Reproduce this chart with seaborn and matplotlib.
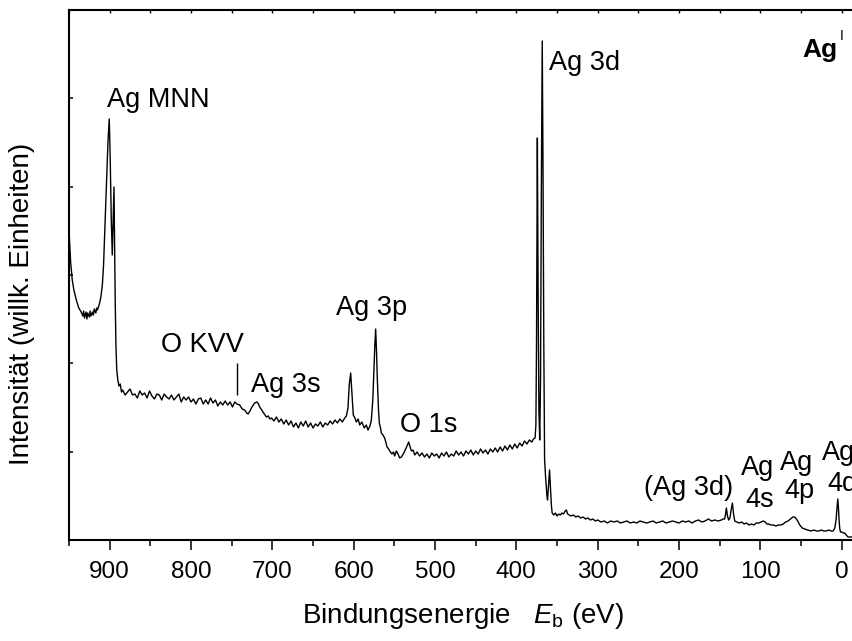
import numpy as np
import pandas as pd
import matplotlib
matplotlib.use("Agg")
import matplotlib.pyplot as plt
import seaborn as sns

# ---------------- data (binding energy in eV, intensity in arbitrary units) ----------------
energy_mnn = [950, 948, 946, 944, 941, 938, 935, 933, 932, 931, 929, 928, 927, 925, 924, 923,
              921, 920, 919, 917, 916, 915, 913, 911, 909, 907.5, 906, 904, 902, 900.5, 899.3,
              898, 896.8, 895.5, 894.7, 894.0, 893.2, 892.3, 891.3, 890, 888.5, 887, 885.5]
inten_mnn = [310, 278, 260, 250, 240, 232, 228, 224, 229, 222, 228, 221, 227, 223, 229, 224,
             228, 225, 231, 227, 232, 230, 235, 242, 255, 275, 310, 355, 400, 421, 380,
             320, 285, 325, 353, 300, 240, 195, 170, 160, 154, 156, 148]

energy_bg1 = [884, 881, 878, 875, 872, 869, 866, 863, 860, 857, 854, 851, 848, 845, 842, 839,
              836, 833, 830, 827, 824, 821, 818, 815, 812, 809, 806, 803, 800, 797, 794, 791,
              788, 785, 782, 779, 776, 773, 770, 767, 764, 761, 758, 755, 752, 749]
inten_bg1 = [150, 145, 148, 151, 145, 146, 142, 149, 145, 147, 142, 149, 144, 141, 146, 145,
             140, 146, 143, 141, 145, 140, 143, 146, 138, 143, 140, 143, 138, 141, 136, 141,
             142, 136, 140, 136, 142, 137, 140, 134, 138, 135, 139, 135, 138, 133]

energy_3s = [746.3, 743.5, 740.2, 737, 734, 731.5, 729.9, 727.5, 725.8, 723.5, 721.7, 718.9,
             717, 715.6, 713, 711.5, 709, 707.3, 705, 703]
inten_3s = [138, 136, 135, 131, 130, 127, 126, 129, 132, 135, 137, 138,
            136, 133, 130, 128, 125, 123, 124, 121]

energy_3p = [701, 698, 695, 692, 689, 686, 683, 680, 677, 674, 671, 668, 665, 662, 659, 656,
             653, 650, 647, 644, 641, 638, 635, 632, 629, 626, 623, 620, 617, 614, 611, 609,
             607, 605.5, 603.7, 602, 600.5, 598.5, 596.7, 594.5, 592.6, 590, 587, 584.5, 582.4,
             580, 578.3, 576.5, 575.4, 574, 573, 572, 570.9, 569.5, 568.5, 567, 566, 564, 562,
             560.5, 559, 557, 555.7, 553, 551, 549.6, 547.5, 545.5, 543.5, 541.4, 539, 537.3,
             535, 533.5, 532.4, 531, 529.1, 527, 525, 522, 519]
inten_3p = [122, 119, 123, 118, 121, 116, 120, 115, 119, 113, 117, 112, 118, 114, 119, 113,
            117, 112, 116, 114, 118, 113, 117, 115, 119, 116, 120, 117, 121, 118, 122, 124,
            132, 155, 167, 145, 125, 122, 118, 121, 115, 118, 112, 115, 110,
            114, 120, 140, 165, 195, 211, 190, 160, 130, 117, 112, 107, 105, 102,
            98, 93, 91, 89, 86, 88, 84, 89, 86, 82, 83, 86, 89,
            93, 96, 98, 94, 89, 90, 85, 88, 84]

energy_bg2 = [516, 513, 510, 507, 504, 501, 498, 495, 492, 489, 486, 483, 480, 477, 474, 471,
              468, 465, 462, 459, 456, 453, 450, 447, 444, 441, 438, 435, 432, 429, 426, 423,
              420, 417, 414, 411, 408, 405, 402, 399, 396, 393, 390, 387, 384, 381, 379]
inten_bg2 = [87, 83, 86, 82, 87, 84, 86, 82, 87, 84, 88, 83, 86, 84, 89, 85,
             88, 84, 89, 86, 90, 85, 89, 86, 91, 87, 90, 86, 91, 88, 92, 88,
             93, 89, 94, 90, 95, 91, 96, 92, 97, 94, 99, 96, 100, 98, 101]

energy_3d = [377, 376, 375.2, 374.2, 373.3, 372.3, 371.3, 370.3, 369.3, 368.2, 367.3, 366.3,
             365.3, 364, 362.5, 361.7, 360.5, 359.2, 358, 357, 356]
inten_3d = [102, 115, 200, 402, 250, 130, 100, 160, 350, 499, 380, 200,
            80, 62, 45, 40, 55, 70, 50, 35, 27]

energy_bg3 = [354, 352, 350, 348, 346, 344, 342, 340, 338.5, 337, 335, 333, 330, 327, 324, 321,
              318, 315, 312, 309, 306, 303, 300, 296, 292, 288, 284, 280, 276, 272, 268, 264,
              260, 256, 252, 248, 244, 240, 236, 232, 228, 224, 220, 216, 212, 208, 204, 200,
              196, 192, 188, 184, 180, 176, 172, 168, 164, 160, 156, 152, 148, 146]
inten_bg3 = [25, 27, 24, 26, 25, 27, 26, 29, 30, 26, 25, 24, 25, 23, 24, 22,
             23, 21, 22, 20, 21, 19, 20, 18, 19, 17, 19, 18, 19, 17, 18, 19,
             17, 18, 17, 19, 18, 17, 18, 19, 17, 18, 19, 17, 18, 19, 18, 17,
             19, 18, 19, 17, 19, 20, 18, 19, 21, 19, 20, 19, 20, 21]

energy_val = [144, 142.8, 141.8, 140.5, 139, 137.5, 136, 134.4, 133, 131.5, 129, 126, 123, 120,
              117, 114, 111, 108, 105, 102, 99, 96.7, 94, 92, 90, 87, 84, 81, 78, 75, 72, 69,
              66, 63, 60, 58, 55.7, 53.5, 51.6, 48.5, 45.5, 42, 38, 34, 31, 28, 25, 22, 19, 16,
              13, 10.7, 8.5, 7, 5.8, 4.9, 4, 3.3, 2.5, 1.6, 0, -2, -3.6, -5.5, -7.7, -10, -14, -20]
inten_val = [21, 26, 32, 24, 20, 22, 30, 37, 26, 19, 18, 17, 18, 16,
             17, 15, 16, 15, 17, 17, 18, 19, 18, 16, 16, 15, 15, 14, 15, 15, 16, 18,
             19, 21, 23, 23, 21, 18, 15, 12, 11, 10, 9, 10, 9, 9, 10, 9, 9, 10,
             9, 9, 12, 20, 32, 41, 32, 20, 12, 8, 8, 7, 7, 5, 3, 3, 3, 2]

energy = energy_mnn + energy_bg1 + energy_3s + energy_3p + energy_bg2 + energy_3d + energy_bg3 + energy_val
intensity = inten_mnn + inten_bg1 + inten_3s + inten_3p + inten_bg2 + inten_3d + inten_bg3 + inten_val

x_ticks = [900, 800, 700, 600, 500, 400, 300, 200, 100, 0]
x_tick_labels = [str(t) for t in x_ticks]
okvv_marker = (743.5, 145, 177)  # energy, lower, upper end of the O KVV marker

# ---------------- style ----------------
sns.set_style("ticks")
plt.rcParams['font.family'] = ['Liberation Sans', 'DejaVu Sans']
plt.rcParams['mathtext.fontset'] = 'custom'
plt.rcParams['mathtext.rm'] = 'Liberation Sans'
plt.rcParams['mathtext.it'] = 'Liberation Sans:italic'
plt.rcParams['mathtext.bf'] = 'Liberation Sans:bold'
plt.rcParams['text.color'] = 'black'
plt.rcParams['axes.labelcolor'] = 'black'
plt.rcParams['xtick.color'] = 'black'
plt.rcParams['ytick.color'] = 'black'
plt.rcParams['xtick.labelcolor'] = 'black'
plt.rcParams['axes.edgecolor'] = 'black'

W, H = 853, 641
fig = plt.figure(figsize=(W / 100, H / 100), dpi=100)
ax = fig.add_axes([69 / W, (H - 540) / H, 789 / W, 530 / H])

df = pd.DataFrame({"E": energy, "I": intensity})
sns.lineplot(data=df, x="E", y="I", ax=ax, color="black", linewidth=1.0,
             sort=False, estimator=None)

ax.set_xlim(950, -20)
ax.set_ylim(0, 530)
ax.set_xlabel("")
ax.set_ylabel("")

for s in ax.spines.values():
    s.set_linewidth(1.5)
    s.set_color("black")

ax.set_xticks(x_ticks)
ax.set_xticklabels(x_tick_labels, fontsize=17.5, color='black')
ax.set_xticks(np.arange(-0, 951, 50), minor=True)
ax.tick_params(axis='x', which='major', direction='out', length=7, width=1.1, pad=8, color='black')
ax.tick_params(axis='x', which='minor', direction='out', length=4, width=1.1, color='black')
ax.set_yticks(np.arange(1, 6) * 530 / 6)
ax.set_yticklabels([])
ax.tick_params(axis='y', which='major', direction='in', length=3, width=1.1, color='black')

top = ax.twiny()
top.set_xlim(ax.get_xlim())
top.set_xticks(np.arange(0, 951, 50))
top.set_xticklabels([])
top.tick_params(axis='x', direction='in', length=2.5, width=1.0, color='black')
for s in top.spines.values():
    s.set_visible(False)

ax.vlines(okvv_marker[0], okvv_marker[1], okvv_marker[2], color='black', linewidth=1.0)

def ftext(px, py, s, **kw):
    fig.text(px / W, 1 - py / H, s, **kw)

ann = dict(fontsize=19.5, ha='left', va='baseline', color='black')
ftext(107, 107, "Ag MNN", **ann)
ftext(549, 70, "Ag 3d", **ann)
ftext(161, 352, "O KVV", **ann)
ftext(251, 392, "Ag 3s", **ann)
ftext(336, 315, "Ag 3p", **ann)
ftext(400, 432, "O 1s", **ann)
ftext(644, 495, "(Ag 3d)", **ann)
ftext(741, 475, "Ag", **ann)
ftext(745, 507, "4s", **ann)
ftext(780, 470, "Ag", **ann)
ftext(784, 498, "4p", **ann)
ftext(822, 460, "Ag", **ann)
ftext(827, 491, "4d", **ann)

ftext(802, 57, "Ag", fontsize=19, fontweight='bold', ha='left', va='baseline', color='black')
ftext(840, 40, "I", fontsize=10, ha='left', va='baseline', color='black')

ftext(463, 623, r"Bindungsenergie   $\mathit{E}_{\mathrm{b}}$ (eV)", fontsize=20,
      ha='center', va='baseline', color='black')
ftext(22, 304, "Intensität (willk. Einheiten)", fontsize=20, rotation=90,
      ha='center', va='center', color='black')

fig.savefig("out.png", dpi=100)
